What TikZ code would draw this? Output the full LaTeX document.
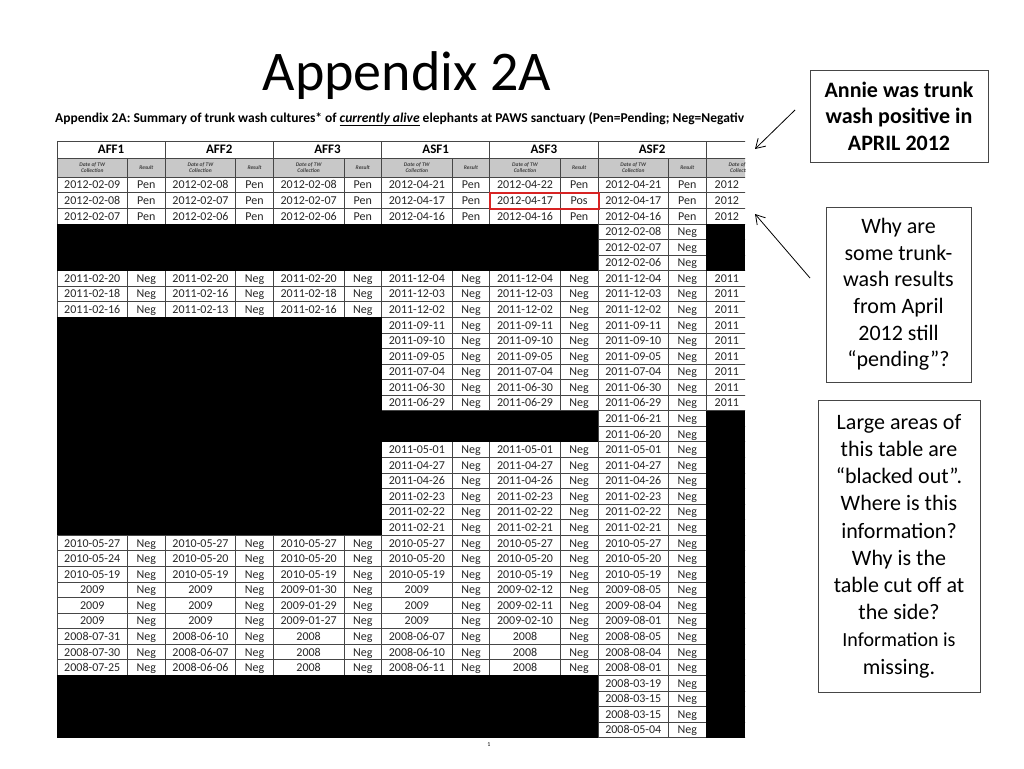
\documentclass[tikz,border=0pt]{standalone}
\usepackage{fontspec}
\setmainfont{Carlito}
\usetikzlibrary{positioning,arrows.meta}
\definecolor{subgrey}{RGB}{200,200,200}
\definecolor{rulegrey}{RGB}{70,70,70}
\definecolor{boxred}{RGB}{215,35,35}
\tikzset{
  datum/.style={inner sep=0pt, text height=7.8pt, text depth=0pt, text=black!85, font=\fontsize{12}{12}\selectfont},
  headcell/.style={inner sep=0pt, text height=8.5pt, text depth=0pt, font=\bfseries\fontsize{13}{13}\selectfont},
  subcell/.style={inner sep=0pt, align=center, text=black!75, font=\bfseries\itshape\fontsize{5.5}{6.5}\selectfont},
  gridline/.style={rulegrey, line width=0.8pt},
  note/.style={draw=rulegrey, line width=0.9pt, align=center, inner sep=0pt},
  pointer/.style={line width=0.8pt, -{Straight Barb[length=9pt,width=11pt]}}
}
\def\skipmark{x}
% one date/result pair of the table, group #1, row #2
\newcommand\twcell[4]{%
  \edef\tmpdate{#3}%
  \ifx\tmpdate\skipmark\else
    \node[datum] (d-#1-#2) at ({57+108.2*#1+35.25},{185+15.57*(#2-1)}) {#3};
    \node[datum] (r-#1-#2) at ({57+108.2*#1+89.35},{185+15.57*(#2-1)}) {#4};
  \fi}
\begin{document}
\begin{tikzpicture}[x=1pt, y=-1pt]
  \useasboundingbox[fill=white] (0,0) rectangle (1024,768);
  % title
  \node[anchor=base, font=\fontsize{56}{60}\selectfont] (title) at (407,90) {Appendix 2A};

  \begin{scope}
    \clip (50,100) rectangle (745,760);
    % caption of the scan
    \node[anchor=base west, inner sep=0pt, font=\bfseries\fontsize{13.5}{14}\selectfont] (caption) at (55,122)
      {Appendix 2A: Summary of trunk wash cultures* of \underline{\textit{currently alive}} elephants at PAWS sanctuary (Pen=Pending; Neg=Negativ};
    % grey sub header
    \fill[subgrey] (57,158) rectangle (790,177.2);
    % grid
    \draw[gridline] (57,141) -- (790,141);
    \draw[gridline] (57,158) -- (790,158);
    \foreach \k in {0,...,36}
      \draw[gridline] (57,{177.2+15.57*\k}) -- (790,{177.2+15.57*\k});
    \foreach \g in {0,...,6}
      \draw[gridline] ({57+108.2*\g},141) -- ({57+108.2*\g},737.7);
    \foreach \g in {0,...,6}
      \draw[gridline] ({57+108.2*\g+70.5},158) -- ({57+108.2*\g+70.5},737.7);
    % headers
    \foreach \g/\name in {0/AFF1,1/AFF2,2/AFF3,3/ASF1,4/ASF3,5/ASF2} {
      \node[headcell] (h-\g) at ({57+108.2*\g+54.1},149.5) {\name};
    }
    \foreach \g in {0,...,6} {
      \node[subcell] (sd-\g) at ({57+108.2*\g+35.25},167.6) {Date of TW\\Collection};
      \node[subcell] (sr-\g) at ({57+108.2*\g+89.35},167.6) {Result};
    }
    % data rows
    \foreach \r/\res/\a/\b/\c/\d/\e/\f in {
      1/Pen/2012-02-09/2012-02-08/2012-02-08/2012-04-21/2012-04-22/2012-04-21,
      2/Pen/2012-02-08/2012-02-07/2012-02-07/2012-04-17/x/2012-04-17,
      3/Pen/2012-02-07/2012-02-06/2012-02-06/2012-04-16/2012-04-16/2012-04-16,
      4/Neg/x/x/x/x/x/2012-02-08,
      5/Neg/x/x/x/x/x/2012-02-07,
      6/Neg/x/x/x/x/x/2012-02-06,
      7/Neg/2011-02-20/2011-02-20/2011-02-20/2011-12-04/2011-12-04/2011-12-04,
      8/Neg/2011-02-18/2011-02-16/2011-02-18/2011-12-03/2011-12-03/2011-12-03,
      9/Neg/2011-02-16/2011-02-13/2011-02-16/2011-12-02/2011-12-02/2011-12-02,
      10/Neg/x/x/x/2011-09-11/2011-09-11/2011-09-11,
      11/Neg/x/x/x/2011-09-10/2011-09-10/2011-09-10,
      12/Neg/x/x/x/2011-09-05/2011-09-05/2011-09-05,
      13/Neg/x/x/x/2011-07-04/2011-07-04/2011-07-04,
      14/Neg/x/x/x/2011-06-30/2011-06-30/2011-06-30,
      15/Neg/x/x/x/2011-06-29/2011-06-29/2011-06-29,
      16/Neg/x/x/x/x/x/2011-06-21,
      17/Neg/x/x/x/x/x/2011-06-20,
      18/Neg/x/x/x/2011-05-01/2011-05-01/2011-05-01,
      19/Neg/x/x/x/2011-04-27/2011-04-27/2011-04-27,
      20/Neg/x/x/x/2011-04-26/2011-04-26/2011-04-26,
      21/Neg/x/x/x/2011-02-23/2011-02-23/2011-02-23,
      22/Neg/x/x/x/2011-02-22/2011-02-22/2011-02-22,
      23/Neg/x/x/x/2011-02-21/2011-02-21/2011-02-21,
      24/Neg/2010-05-27/2010-05-27/2010-05-27/2010-05-27/2010-05-27/2010-05-27,
      25/Neg/2010-05-24/2010-05-20/2010-05-20/2010-05-20/2010-05-20/2010-05-20,
      26/Neg/2010-05-19/2010-05-19/2010-05-19/2010-05-19/2010-05-19/2010-05-19,
      27/Neg/2009/2009/2009-01-30/2009/2009-02-12/2009-08-05,
      28/Neg/2009/2009/2009-01-29/2009/2009-02-11/2009-08-04,
      29/Neg/2009/2009/2009-01-27/2009/2009-02-10/2009-08-01,
      30/Neg/2008-07-31/2008-06-10/2008/2008-06-07/2008/2008-08-05,
      31/Neg/2008-07-30/2008-06-07/2008/2008-06-10/2008/2008-08-04,
      32/Neg/2008-07-25/2008-06-06/2008/2008-06-11/2008/2008-08-01,
      33/Neg/x/x/x/x/x/2008-03-19,
      34/Neg/x/x/x/x/x/2008-03-15,
      35/Neg/x/x/x/x/x/2008-03-15,
      36/Neg/x/x/x/x/x/2008-05-04} {
      \twcell{0}{\r}{\a}{\res}
      \twcell{1}{\r}{\b}{\res}
      \twcell{2}{\r}{\c}{\res}
      \twcell{3}{\r}{\d}{\res}
      \twcell{4}{\r}{\e}{\res}
      \twcell{5}{\r}{\f}{\res}
    }
    % the cut off column
    \foreach \r/\yr in {1/2012,2/2012,3/2012,7/2011,8/2011,9/2011,10/2011,11/2011,12/2011,13/2011,14/2011,15/2011}
      \node[datum, anchor=west] (cut-\r) at (714.5,{185+15.57*(\r-1)}) {\yr};
    % blacked out areas
    \fill[black] (57,223.9) rectangle (598,270.6);
    \fill[black] (57,317.3) rectangle (381.6,410.7);
    \fill[black] (57,410.7) rectangle (598,441.8);
    \fill[black] (57,441.8) rectangle (381.6,535.2);
    \fill[black] (57,675.4) rectangle (598,737.7);
    \fill[black] (706.2,223.9) rectangle (745,270.6);
    \fill[black] (706.2,410.7) rectangle (745,737.7);
  \end{scope}

  % the positive result
  \node[datum] (posdate) at (525.05,200.6) {2012-04-17};
  \node[datum] (posres) at (579.15,200.6) {Pos};
  \draw[boxred, line width=2pt] (489.8,192.8) rectangle (598.6,208.6);
  \node[inner sep=0pt, font=\fontsize{6}{6}\selectfont] (page) at (489,745) {1};

  % notes
  \node[note, minimum width=178pt, minimum height=92pt, font=\bfseries\fontsize{22}{26.5}\selectfont] (annie) at (899,116)
    {Annie was trunk\\wash positive in\\APRIL 2012};
  \node[note, minimum width=145pt, minimum height=175pt, font=\fontsize{22}{26.6}\selectfont] (pending) at (898.5,294.5)
    {Why are\\some trunk-\\wash results\\from April\\2012 still\\“pending”?};
  \node[note, minimum width=162pt, minimum height=292pt, font=\fontsize{22}{27.2}\selectfont] (blacked) at (899,546)
    {Large areas of\\this table are\\“blacked out”.\\Where is this\\information?\\Why is the\\table cut off at\\the side?\\{\fontsize{20}{27.2}\selectfont Information is}\\missing.};

  \coordinate (tailA) at (795,110);
  \coordinate (tipA) at (755,149);
  \coordinate (tailB) at (810,278);
  \coordinate (tipB) at (755,214);
  \draw[pointer] (tailA) -- (tipA);
  \draw[pointer] (tailB) -- (tipB);
\end{tikzpicture}
\end{document}
